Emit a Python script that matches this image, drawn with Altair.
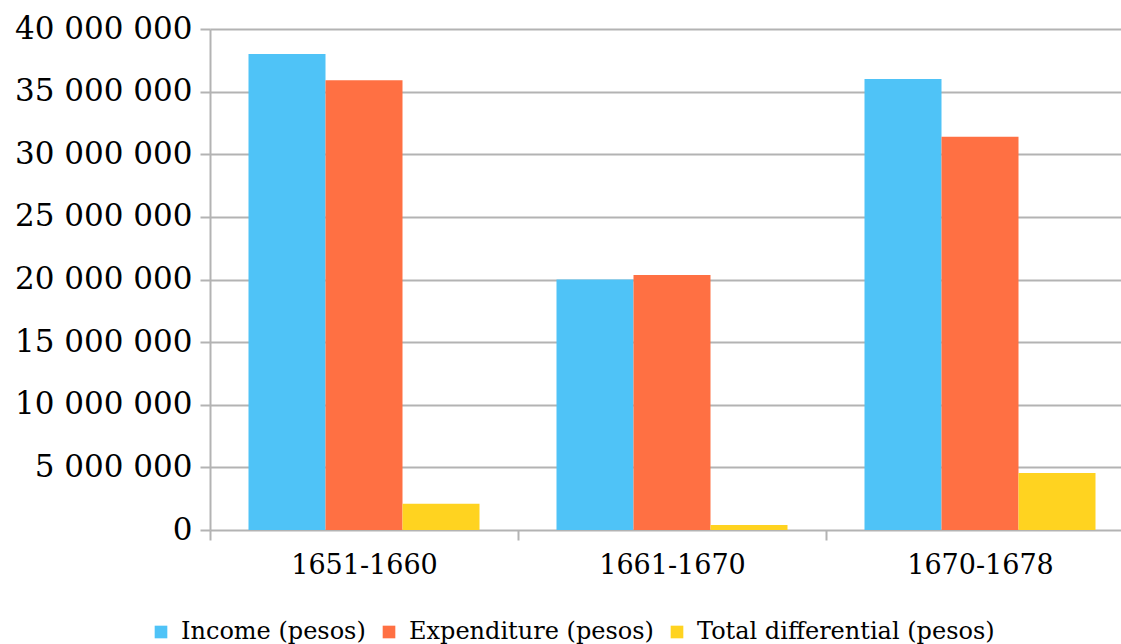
import altair as alt
import pandas as pd

periods = ["1651-1660", "1661-1670", "1670-1678"]
series = ["Income (pesos)", "Expenditure (pesos)", "Total differential (pesos)"]
income = [38000000, 20000000, 36000000]
expenditure = [35900000, 20350000, 31400000]
differential = [2100000, 400000, 4550000]
colors = ["#4FC3F7", "#FF7043", "#FFD320"]

rows = []
for i, p in enumerate(periods):
    for s, vals in zip(series, [income, expenditure, differential]):
        rows.append({"period": p, "series": s, "value": vals[i]})
df = pd.DataFrame(rows)

FONT = "DejaVu Serif"
GRID = "#B3B3B3"

chart = alt.Chart(df).mark_bar().encode(
    x=alt.X("period:N", sort=periods,
            scale=alt.Scale(paddingInner=0, paddingOuter=0, range=[0, 924]),
            axis=alt.Axis(title=None, labelAngle=0, domain=False, ticks=True,
                          tickBand="extent", tickSize=10, tickColor=GRID, tickWidth=2,
                          labelFontSize=27, labelFont=FONT, labelColor="#000",
                          labelPadding=12, grid=False)),
    xOffset=alt.XOffset("series:N", sort=series,
                        scale=alt.Scale(paddingInner=0, paddingOuter=0.5)),
    y=alt.Y("value:Q", scale=alt.Scale(domain=[0, 40000000], nice=False),
            axis=alt.Axis(title=None, values=list(range(0, 40000001, 5000000)),
                          labelExpr="datum.value == 0 ? '0' : format(datum.value/1000000, 'd') + ' 000 000'",
                          labelFontSize=31, labelFont=FONT, labelColor="#000",
                          tickSize=10, tickColor=GRID, tickWidth=2,
                          domainColor=GRID, domainWidth=2,
                          gridColor=GRID, gridWidth=2, labelPadding=8)),
    color=alt.Color("series:N", sort=series,
                    scale=alt.Scale(domain=series, range=colors),
                    legend=alt.Legend(title=None, orient="none", direction="horizontal",
                                      legendX=-61, legendY=591,
                                      symbolType="square", symbolSize=160,
                                      symbolStrokeWidth=0, labelFont=FONT,
                                      labelFontSize=24, labelColor="#000",
                                      labelLimit=0, labelOffset=8, columnPadding=11)),
).properties(
    width=911, height=501,
    autosize=alt.AutoSizeParams(type="none"),
    padding={"left": 210, "top": 29, "right": 0, "bottom": 114},
).configure_view(stroke=None)

chart.save("out.html", embed_options={"renderer": "svg", "actions": False})
